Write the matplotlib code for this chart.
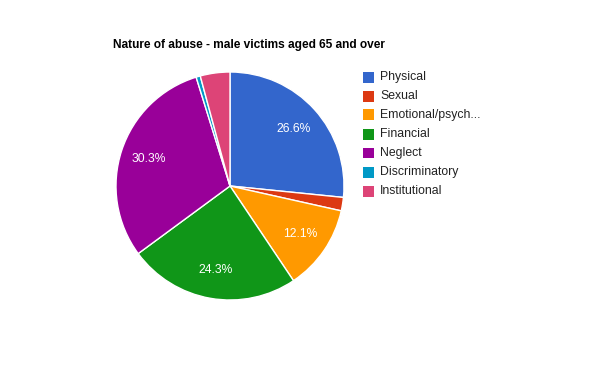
import matplotlib
matplotlib.use("Agg")
import matplotlib.pyplot as plt
from matplotlib.patches import Rectangle

categories = ["Physical", "Sexual", "Emotional/psych...", "Financial", "Neglect", "Discriminatory", "Institutional"]
values = [26.6, 1.9, 12.1, 24.3, 30.3, 0.6, 4.2]
colors = ["#3366cc", "#dc3912", "#ff9900", "#109618", "#990099", "#0099c6", "#dd4477"]
title = "Nature of abuse - male victims aged 65 and over"

plt.rcParams['font.family'] = ['Liberation Sans', 'DejaVu Sans']
W, H = 600, 371
fig = plt.figure(figsize=(W / 100, H / 100), dpi=100)

cx, cy, r = 230, 186, 114
ax = fig.add_axes([(cx - r) / W, (H - cy - r) / H, 2 * r / W, 2 * r / H])

def fmt(p):
    return f"{p:.1f}%" if p >= 5 else ""

wedges, texts, autotexts = ax.pie(values, colors=colors, startangle=90, counterclock=False,
                                  autopct=fmt, pctdistance=0.75,
                                  wedgeprops=dict(edgecolor="white", linewidth=1),
                                  textprops=dict(color="white", fontsize=8.7))
ax.set_xlim(-1, 1)
ax.set_ylim(-1, 1)
ax.set_aspect("equal")
ax.axis("off")

fig.text(113 / W, 1 - 45 / H, title, fontsize=8.6, fontweight="bold", ha="left", va="center", color="black")

lx, ly0, dy = 363, 77, 19
for i, (lab, col) in enumerate(zip(categories, colors)):
    y = ly0 + i * dy
    fig.patches.append(Rectangle((lx / W, 1 - (y + 5.5) / H), 11 / W, 11 / H,
                                 transform=fig.transFigure, facecolor=col, edgecolor="none"))
    fig.text(380 / W, 1 - y / H, lab, fontsize=8.8, ha="left", va="center", color="#222222")

fig.savefig("out.png", dpi=100)
